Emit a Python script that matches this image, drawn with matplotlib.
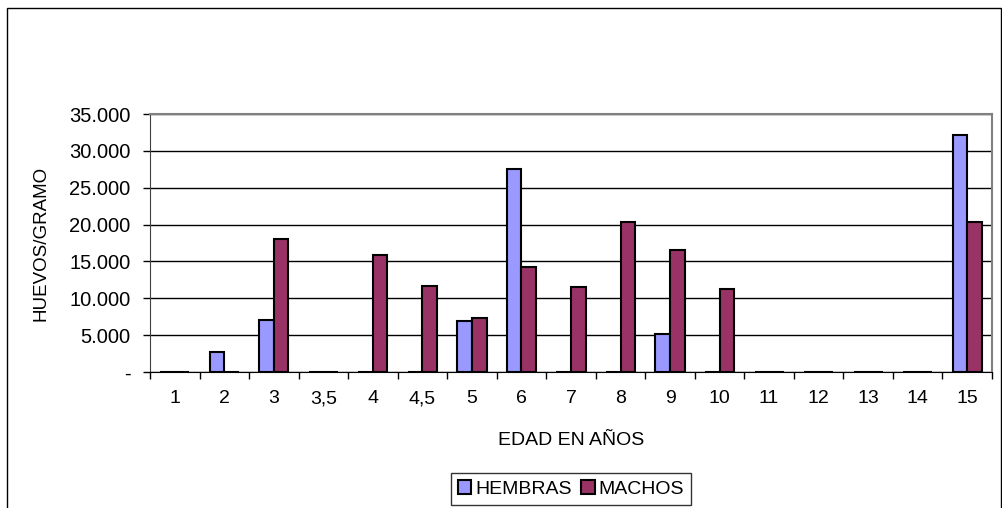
import numpy as np
import matplotlib.pyplot as plt
from matplotlib.patches import Rectangle
from matplotlib.ticker import FuncFormatter

plt.rcParams['font.family'] = ['Liberation Sans', 'DejaVu Sans']

edades = ['1', '2', '3', '3,5', '4', '4,5', '5', '6', '7', '8', '9', '10',
          '11', '12', '13', '14', '15']
hembras = [0, 2700, 7000, 0, 0, 0, 6950, 27600, 0, 0, 5100, 0,
           0, 0, 0, 0, 32100]
machos = [0, 0, 18100, 0, 15900, 11600, 7300, 14300, 11500, 20400, 16500, 11300,
          0, 0, 0, 0, 20400]

c_hembras = '#9999FF'
c_machos = '#993366'


def miles(v, pos):
    if v == 0:
        return '-'
    return f'{int(v):,}'.replace(',', '.')


fig = plt.figure(figsize=(10.03, 5.08), dpi=100)
ax = fig.add_axes([150 / 1003, 1 - 372 / 508, 842 / 1003, 258 / 508])

x = np.arange(len(edades))
w = 0.295
ax.bar(x - w / 2, hembras, w, color=c_hembras, edgecolor='black',
       linewidth=1.5, label='HEMBRAS', zorder=3)
ax.bar(x + w / 2, machos, w, color=c_machos, edgecolor='black',
       linewidth=1.5, label='MACHOS', zorder=3)

ax.set_xlim(-0.5, len(edades) - 0.5)
ax.set_ylim(0, 35000)
ax.set_yticks(np.arange(0, 35001, 5000))
ax.yaxis.set_major_formatter(FuncFormatter(miles))
ax.set_xticks(x)
ax.set_xticklabels(edades)
ax.set_xticks(np.arange(-0.5, len(edades), 1), minor=True)
ax.tick_params(axis='x', which='major', length=0, pad=13, labelsize=14)
ax.tick_params(axis='x', which='minor', length=5, width=1, direction='out')
ax.tick_params(axis='y', length=5, width=1, direction='out', labelsize=14.5, pad=9)

ax.grid(axis='y', color='black', linewidth=1, zorder=0)
for side in ['top', 'right']:
    ax.spines[side].set_color('#808080')
    ax.spines[side].set_linewidth(1.5)
ax.spines['left'].set_color('#404040')
ax.spines['bottom'].set_color('black')

ax.set_xlabel('EDAD EN AÑOS', fontsize=14, labelpad=18)
ax.set_ylabel('HUEVOS/GRAMO', fontsize=13.5, labelpad=14)

leg = ax.legend(loc='upper center', bbox_to_anchor=(0.5, -0.355), ncol=2,
                frameon=True, fancybox=False, fontsize=14,
                handlelength=0.7, handleheight=0.7, handletextpad=0.2,
                columnspacing=0.5, borderpad=0.35)
leg.get_frame().set_edgecolor('black')
leg.get_frame().set_linewidth(1)

# marco exterior del gráfico
fig.patches.append(Rectangle((7 / 1003, -0.01), 994 / 1003, 1 - 8 / 508 + 0.01,
                             transform=fig.transFigure, fill=False,
                             edgecolor='black', linewidth=1))

fig.savefig('out.png', dpi=100)
